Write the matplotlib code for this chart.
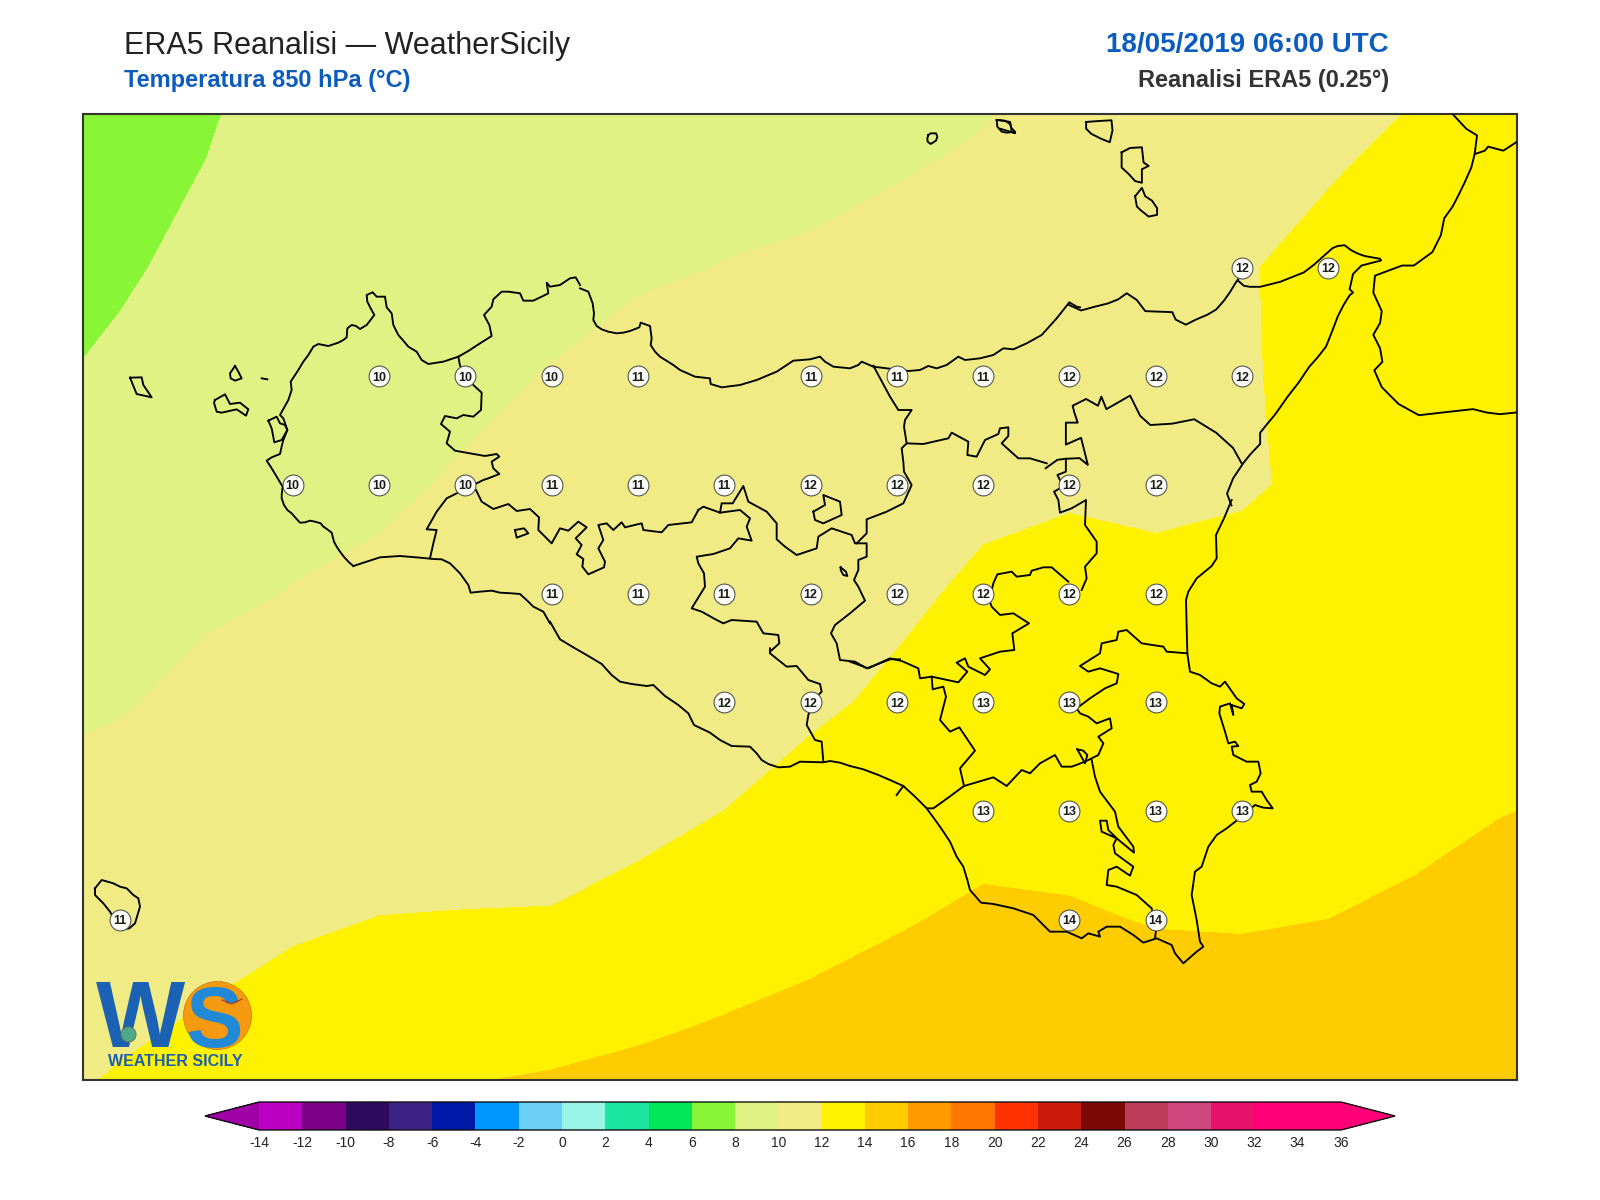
import matplotlib
matplotlib.use("Agg")
import matplotlib.pyplot as plt

plt.rcParams["font.family"] = ["Liberation Sans", "DejaVu Sans"]
plt.rcParams["axes.unicode_minus"] = False

# ERA5 grid, 0.25 deg
grid_lons = [11.75, 12.0, 12.25, 12.5, 12.75, 13.0, 13.25, 13.5, 13.75, 14.0,
             14.25, 14.5, 14.75, 15.0, 15.25, 15.5, 15.75, 16.0, 16.25]
grid_lats = [38.75, 38.5, 38.25, 38.0, 37.75, 37.5, 37.25, 37.0, 36.75, 36.5, 36.25]

# temperature per longitude column, north to south, estimated from the contours
t850_columns = [
    [5.85, 6.5, 7.13, 7.77, 8.4, 9.04, 9.68, 10.3, 10.9, 11.45, 12.0],
    [6.7, 7.25, 7.78, 8.32, 8.85, 9.38, 9.9, 10.54, 11.17, 11.8, 12.45],
    [7.55, 8.0, 8.45, 8.9, 9.35, 9.8, 10.33, 10.93, 11.53, 12.15, 12.85],
    [8.6, 8.9, 9.2, 9.45, 9.72, 10.03, 10.63, 11.23, 11.83, 12.5, 13.2],
    [8.9, 9.1, 9.35, 9.6, 9.8, 10.24, 10.83, 11.43, 12.02, 12.95, 13.9],
    [9.0, 9.25, 9.5, 9.75, 10.13, 10.61, 11.0, 11.5, 12.05, 13.34, 14.6],
    [9.2, 9.4, 9.65, 10.05, 10.5, 10.85, 11.2, 11.5, 12.07, 13.5, 14.8],
    [9.3, 9.5, 9.82, 10.5, 10.75, 10.96, 11.2, 11.45, 12.62, 13.8, 15.0],
    [9.4, 9.63, 10.03, 10.42, 10.8, 11.2, 11.6, 12.0, 13.06, 14.13, 15.2],
    [9.4, 9.7, 10.15, 10.9, 11.5, 11.6, 11.8, 12.45, 13.51, 14.4, 15.4],
    [9.5, 9.85, 10.5, 11.0, 11.5, 11.78, 12.2, 12.95, 13.9, 14.6, 15.5],
    [9.6, 10.15, 10.65, 11.1, 11.75, 12.2, 12.95, 13.58, 14.2, 14.9, 15.6],
    [10.1, 10.6, 11.0, 11.5, 11.85, 12.42, 12.99, 13.56, 14.12, 14.8, 15.5],
    [10.6, 11.0, 11.4, 11.6, 11.75, 12.31, 12.85, 13.4, 13.94, 14.6, 15.3],
    [11.0, 11.4, 11.9, 11.9, 11.88, 12.37, 12.88, 13.4, 13.92, 14.5, 15.1],
    [11.2, 11.85, 12.38, 12.3, 12.22, 12.7, 13.05, 13.35, 14.0, 14.5, 15.1],
    [11.73, 12.3, 12.6, 12.65, 12.7, 12.9, 13.2, 13.55, 14.3, 15.0, 15.7],
    [12.2, 12.6, 12.8, 12.9, 13.0, 13.2, 13.5, 13.95, 14.7, 15.4, 16.0],
    [12.6, 12.9, 13.0, 13.1, 13.2, 13.4, 13.7, 14.2, 15.1, 15.8, 16.5],
]

levels = list(range(-14, 38, 2))
band_colors = [
    "#a000a8", "#bb00c3", "#7c0088", "#2e0a5e", "#3c2285", "#0018a8", "#0096ff",
    "#6ccff6", "#99f5e8", "#1de6a0", "#00e85a", "#88f636", "#e0f283", "#f0eb84",
    "#fff200", "#ffcc00", "#ff9900", "#ff7700", "#ff3300", "#cc1a0a", "#7d0808",
    "#bc3d5a", "#d04780", "#e8126e", "#ff0078", "#ff0078", "#ff0078",
]

# values printed in the white circles
label_lons = [15.25, 15.5,
              12.75, 13.0, 13.25, 13.5, 14.0, 14.25, 14.5, 14.75, 15.0, 15.25,
              12.5, 12.75, 13.0, 13.25, 13.5, 13.75, 14.0, 14.25, 14.5, 14.75, 15.0,
              13.25, 13.5, 13.75, 14.0, 14.25, 14.5, 14.75, 15.0,
              13.75, 14.0, 14.25, 14.5, 14.75, 15.0,
              14.5, 14.75, 15.0, 15.25,
              12.0, 14.75, 15.0]
label_lats = [38.25] * 2 + [38.0] * 10 + [37.75] * 11 + [37.5] * 8 + [37.25] * 6 + [37.0] * 4 + [36.75] * 3
label_vals = [12, 12,
              10, 10, 10, 11, 11, 11, 11, 12, 12, 12,
              10, 10, 10, 11, 11, 11, 12, 12, 12, 12, 12,
              11, 11, 11, 12, 12, 12, 12, 12,
              12, 12, 12, 13, 13, 13,
              13, 13, 13, 13,
              11, 14, 14]

# outlines, one (x0, y0, scale) per traced area
AREA_A = (80, 250, 3)
AREA_B = (550, 330, 3)
AREA_C = (1000, 100, 2.96)
AREA_D = (850, 480, 3)
AREA_E = (550, 560, 3)
AREA_F = (400, 460, 3)
AREA_G = (580, 270, 3)
AREA_H = (900, 110, 3)
AREA_I = (80, 860, 3)

coast_west = [(820, 948), (808, 938), (793, 922), (780, 905), (770, 890), (762, 875), (755, 848), (742, 838), (730, 830),
              (722, 820), (705, 815), (690, 812), (675, 817), (660, 818), (648, 805), (635, 790), (622, 780), (612, 765),
              (605, 745), (605, 735), (608, 710), (590, 680), (572, 650), (560, 632),
              (575, 622), (600, 612), (606, 585), (610, 570), (622, 540), (610, 505), (600, 495), (625, 450),
              (635, 420), (632, 395), (655, 360), (670, 335), (685, 315), (700, 290), (715, 282), (745, 288), (775, 278),
              (790, 270), (800, 262), (802, 235), (815, 225), (828, 228), (840, 237), (860, 225), (883, 195), (872, 175),
              (862, 155), (860, 135),
              (878, 127), (890, 140), (915, 140), (920, 172), (935, 190), (940, 225), (955, 255), (970, 272), (985, 290),
              (1010, 305), (1025, 330), (1045, 342), (1090, 335), (1135, 320), (1165, 303), (1200, 280), (1235, 258),
              (1228, 225), (1212, 195), (1235, 170), (1240, 148), (1265, 125), (1285, 125), (1320, 130),
              (1330, 152), (1360, 152), (1385, 140), (1405, 130), (1400, 98), (1410, 110), (1440, 105), (1470, 85),
              (1487, 82), (1500, 105)]
stagnone = [(565, 512), (590, 500), (600, 520), (615, 525), (622, 540), (605, 570), (583, 577), (575, 535), (565, 512)]
coast_north_a = [(0, 55), (25, 65), (38, 100), (42, 130), (40, 150), (50, 168), (65, 178), (85, 185), (110, 190), (130, 188),
                 (150, 183), (178, 172), (182, 158), (210, 168), (215, 205), (212, 225), (225, 245), (240, 260), (280, 285),
                 (300, 300), (345, 320), (390, 325), (392, 342), (425, 352), (480, 345), (530, 330), (590, 305), (640, 272),
                 (690, 268), (720, 260), (735, 275), (760, 290), (810, 295), (835, 285), (845, 275), (880, 290), (920, 295),
                 (985, 303), (1020, 300), (1045, 288), (1070, 295), (1100, 285), (1135, 260), (1155, 270),
                 (1200, 265), (1240, 255), (1270, 235), (1300, 238), (1340, 220), (1385, 195), (1430, 145), (1468, 97),
                 (1490, 110), (1500, 112)]
coast_north_b = [(205, 607), (240, 623), (280, 612), (320, 602), (350, 590), (375, 572), (405, 592), (430, 625), (510, 628),
                 (520, 650), (550, 665), (580, 650), (615, 635), (640, 620), (662, 595), (680, 570), (695, 545), (705, 530),
                 (705, 535), (722, 550), (740, 553), (770, 553), (830, 538), (870, 522), (900, 510), (930, 487), (960, 460),
                 (985, 438), (1000, 432), (1020, 430), (1040, 445), (1060, 455), (1080, 462),
                 (1125, 470), (1128, 475), (1070, 490), (1045, 515), (1035, 560), (1045, 570), (1035, 578),
                 (1018, 605), (1000, 640), (983, 685), (965, 730), (940, 762), (915, 790), (885, 835), (850, 880), (815, 930),
                 (790, 960), (770, 985), (770, 1018), (740, 1050), (720, 1075),
                 (690, 1120), (672, 1165), (685, 1200)]
coast_east = [(1145, 60), (1122, 115), (1098, 165), (1100, 235), (1085, 258), (1040, 295),
              (1015, 335), (1008, 360), (1012, 520), (1020, 575), (1050, 585), (1085, 610), (1110, 620), (1125, 605),
              (1160, 655), (1183, 672), (1175, 685), (1145, 675), (1150, 705), (1140, 670), (1110, 680), (1108, 700),
              (1125, 755), (1135, 790), (1155, 785), (1165, 798), (1145, 800), (1150, 825), (1190, 845), (1225, 845),
              (1232, 880), (1220, 905), (1200, 915), (1205, 935), (1235, 935), (1250, 960), (1268, 985), (1240, 983),
              (1215, 975), (1175, 1010), (1130, 1045), (1100, 1065), (1075, 1100), (1055, 1160), (1035, 1175),
              (1025, 1245), (1040, 1320), (1050, 1385), (1060, 1400), (1040, 1415), (1000, 1450), (975, 1420),
              (965, 1395), (920, 1375), (880, 1388), (850, 1365), (810, 1340), (770, 1340), (745, 1355), (750, 1370),
              (715, 1360), (695, 1375), (650, 1355), (600, 1355), (575, 1330), (550, 1305), (490, 1285), (430, 1272), (393, 1268),
              (360, 1230), (352, 1200), (340, 1160), (320, 1130), (300, 1085), (270, 1040), (230, 985), (195, 950), (160, 918),
              (120, 900), (85, 885), (40, 868), (0, 858)]
coast_south_a = [(900, 618), (870, 608), (840, 603), (820, 607), (750, 605), (720, 620), (685, 622), (655, 612), (635, 600),
                 (620, 580), (600, 560), (545, 558), (510, 540), (480, 518), (432, 495), (415, 460), (385, 435), (345, 408),
                 (310, 375), (290, 378), (245, 372), (210, 365), (185, 345), (155, 312), (115, 288), (70, 262), (30, 238),
                 (0, 185)]
coast_south_b = [(450, 490), (430, 455), (400, 440), (385, 425), (360, 402), (335, 400), (300, 398), (275, 392),
                 (240, 395), (212, 398), (205, 375), (180, 340), (150, 310), (125, 298), (100, 297), (60, 293), (0, 288)]
coast_south_c = [(960, 918), (900, 922), (860, 935), (820, 948)]

calabria = [(1340, 42), (1380, 85), (1412, 105), (1405, 160), (1395, 200), (1375, 245), (1358, 280), (1340, 315), (1315, 350),
            (1305, 400), (1280, 450), (1225, 490), (1190, 490), (1150, 505), (1110, 520), (1105, 570), (1130, 625), (1125, 660),
            (1105, 695), (1125, 735), (1132, 775), (1108, 800), (1130, 850), (1180, 900), (1240, 933), (1310, 925),
            (1400, 915), (1440, 925), (1480, 930), (1528, 925)]
calabria_inner = [(1405, 160), (1435, 150), (1445, 138), (1490, 150), (1528, 125)]

border_trapani = [(1135, 320), (1140, 347), (1180, 405), (1205, 428), (1203, 480), (1180, 500), (1150, 495),
                  (1130, 505), (1095, 498), (1083, 522), (1110, 545), (1100, 580), (1125, 602), (1215, 618),
                  (1250, 612), (1258, 620), (1235, 635), (1240, 655), (1258, 672), (1225, 685), (1210, 690),
                  (1190, 700), (1130, 730), (1100, 745), (1070, 785), (1040, 838), (1070, 840), (1060, 880), (1050, 925)]
border_palermo = [(228, 90), (245, 125), (280, 147), (325, 132), (350, 153), (390, 147), (417, 172), (415, 210),
                  (455, 250), (480, 205), (505, 212), (535, 185), (560, 202), (527, 235), (545, 255), (530, 283),
                  (550, 297), (547, 320), (565, 343), (612, 322), (615, 305), (595, 265), (610, 240), (595, 195),
                  (620, 190), (640, 210), (665, 187), (675, 202), (725, 190), (730, 210), (785, 217), (805, 195),
                  (875, 187), (895, 150)]
border_palermo_b = [(445, 540), (460, 530), (510, 548), (570, 540), (600, 565), (590, 590), (605, 632), (565, 625),
                    (540, 655), (490, 672), (440, 680), (445, 700), (462, 730), (465, 770), (425, 835), (455, 845),
                    (500, 870), (520, 880), (545, 870), (620, 875), (640, 910), (685, 915), (688, 940), (660, 965)]
border_agrigento = [(660, 265), (660, 280), (710, 320), (740, 318), (775, 360), (810, 372), (815, 395), (790, 420),
                    (775, 465), (770, 495), (795, 540), (815, 545), (820, 605)]
border_enna = [(510, 548), (515, 520), (548, 520), (580, 468), (595, 515), (650, 545), (680, 580), (680, 628),
               (705, 650), (740, 675), (800, 655), (805, 620), (845, 595), (905, 615), (915, 640), (950, 640),
               (950, 680), (925, 690), (925, 720), (912, 750), (925, 770), (945, 812), (900, 850), (855, 885),
               (843, 910), (860, 940), (870, 990), (915, 995), (950, 1015), (1020, 988), (1050, 988)]
border_messina = [(970, 107), (1020, 200), (1045, 240), (1085, 240), (1065, 270), (1062, 290), (1070, 340),
                  (1120, 342), (1195, 325), (1205, 308), (1255, 335), (1252, 375), (1280, 380), (1305, 330),
                  (1345, 312), (1350, 295), (1375, 292), (1375, 318), (1355, 340), (1405, 385), (1440, 385), (1490, 400)]
border_catania_w = [(1070, 340), (1055, 355), (1060, 395), (1062, 425), (1085, 465), (1060, 520), (1010, 545),
                    (950, 568), (950, 610), (920, 640)]
border_messina_e = [(135, 1090), (170, 1065), (195, 1062), (235, 1060), (260, 1080), (240, 1000), (195, 1020),
                    (195, 955), (230, 955), (220, 925), (215, 905), (255, 885), (290, 905), (300, 878), (315, 915),
                    (385, 875), (415, 935), (445, 962), (510, 958), (575, 945), (640, 985), (690, 1030), (715, 1075)]
border_fork = [(195, 1062), (195, 1100), (170, 1110), (180, 1130), (178, 1148)]
border_catania_e = [(630, 25), (612, 35), (625, 60), (630, 98), (665, 85), (708, 60), (705, 135), (740, 185),
                    (740, 220), (705, 260), (710, 295), (695, 330)]
border_catania_s = [(655, 305), (605, 262), (580, 262), (545, 272), (540, 285), (500, 290), (485, 275), (442, 283),
                    (430, 310), (418, 360), (425, 380), (450, 405), (490, 400), (537, 430), (487, 460), (493, 510),
                    (450, 515), (390, 535), (420, 568), (405, 585), (355, 560), (345, 535), (320, 548), (352, 575),
                    (325, 607), (245, 590), (210, 595), (205, 565), (155, 543), (120, 535), (55, 565), (0, 545)]
border_caltanissetta = [(245, 590), (248, 628), (280, 620), (288, 650), (270, 720), (300, 755), (328, 742), (375, 812),
                        (330, 865), (342, 918), (285, 960), (250, 985), (232, 985)]
border_ragusa = [(342, 918), (430, 892), (470, 918), (515, 870), (540, 880), (570, 850), (615, 825), (635, 860),
                 (665, 860), (705, 845), (745, 825), (760, 790), (745, 770), (785, 745), (780, 715), (740, 730),
                 (715, 710), (690, 700), (680, 685), (720, 655), (765, 625), (800, 610), (805, 582), (750, 565),
                 (715, 575), (690, 558), (750, 520), (755, 490), (800, 480), (805, 455), (830, 450), (875, 490),
                 (940, 500), (950, 515), (1012, 520)]
border_siracusa = [(725, 840), (735, 890), (750, 935), (795, 995), (805, 1040), (850, 1100), (852, 1118), (800, 1075),
                   (775, 1050), (770, 1022), (750, 1022), (755, 1055), (800, 1075), (790, 1095), (795, 1120), (850, 1160),
                   (840, 1187), (800, 1160), (775, 1170), (770, 1215), (800, 1220), (860, 1245), (905, 1285), (918, 1350),
                   (915, 1375)]
lake_triangle = [(682, 808), (700, 812), (712, 825), (705, 850), (682, 808)]
gela_notch = [(140, 945), (160, 918)]

marettimo = [(150, 383), (185, 382), (190, 405), (215, 442), (170, 432), (150, 383)]
levanzo = [(465, 348), (475, 365), (485, 385), (465, 392), (452, 385), (450, 370), (465, 348)]
favignana = [(405, 450), (435, 433), (450, 462), (480, 458), (505, 478), (498, 497), (470, 478), (425, 488), (410, 485),
             (402, 458), (405, 450)]
egadi_rocks = [(545, 385), (562, 388)]
ustica = [(85, 75), (92, 70), (108, 70), (112, 80), (108, 92), (92, 102), (83, 95), (82, 85), (85, 75)]
alicudi = [(290, 30), (315, 32), (330, 42), (335, 55), (345, 65), (320, 68), (305, 65), (292, 50), (290, 30)]
panarea = [(0, 60), (30, 65), (35, 95), (45, 98), (0, 85)]
salina = [(255, 65), (295, 62), (330, 60), (333, 90), (325, 125), (300, 115), (270, 100), (255, 85), (255, 65)]
lipari = [(360, 155), (385, 142), (420, 140), (425, 185), (440, 195), (420, 205), (420, 245), (400, 240), (380, 218),
          (360, 200), (360, 155)]
vulcano = [(400, 285), (420, 260), (430, 285), (450, 298), (465, 320), (465, 340), (440, 345), (415, 325), (405, 315), (400, 285)]
pantelleria = [(45, 85), (65, 60), (100, 70), (120, 80), (140, 85), (160, 105), (175, 115), (180, 140), (165, 190), (148, 205),
               (120, 210), (90, 155), (70, 130), (45, 105), (45, 85)]
lake_west = [(345, 210), (372, 205), (385, 220), (350, 233), (345, 210)]
lake_pozzillo = [(790, 545), (825, 525), (820, 495), (870, 515), (875, 555), (820, 580), (795, 570), (790, 545)]
lake_small = [(872, 712), (888, 725), (892, 738), (880, 735), (872, 720), (872, 712)]

outlines = [
    (AREA_A, coast_west), (AREA_A, stagnone), (AREA_G, coast_north_a), (AREA_C, coast_north_b),
    (AREA_D, coast_east), (AREA_E, coast_south_a), (AREA_F, coast_south_b), (AREA_A, coast_south_c),
    (AREA_C, calabria), (AREA_C, calabria_inner), (AREA_A, border_trapani), (AREA_F, border_palermo),
    (AREA_B, border_palermo_b), (AREA_E, border_agrigento), (AREA_B, border_enna), (AREA_B, border_messina),
    (AREA_B, border_catania_w), (AREA_C, border_messina_e), (AREA_C, border_fork), (AREA_D, border_catania_e),
    (AREA_D, border_catania_s), (AREA_D, border_caltanissetta), (AREA_D, border_ragusa), (AREA_D, border_siracusa),
    (AREA_D, lake_triangle), (AREA_D, gela_notch), (AREA_A, marettimo), (AREA_A, levanzo), (AREA_A, favignana),
    (AREA_A, egadi_rocks), (AREA_H, ustica), (AREA_H, alicudi), (AREA_C, panarea), (AREA_C, salina), (AREA_C, lipari),
    (AREA_C, vulcano), (AREA_I, pantelleria), (AREA_F, lake_west), (AREA_B, lake_pozzillo), (AREA_B, lake_small),
]


def to_lon(px):
    return 12.5 + (px - 292.7) / 345.2


def to_lat(py):
    return 38.25 - (py - 267.6) / 434.6


def trace_to_lonlat(area, points):
    x0, y0, scale = area
    lons = [to_lon(x0 + x / scale) for x, _ in points]
    lats = [to_lat(y0 + y / scale) for _, y in points]
    return lons, lats


fig = plt.figure(figsize=(16, 12), dpi=100)
ax = fig.add_axes([83 / 1600, 1 - 1080 / 1200, 1434 / 1600, 966 / 1200])

t850 = [[col[i] for col in t850_columns] for i in range(len(grid_lats))]
filled = ax.contourf(grid_lons, grid_lats, t850, levels=levels, colors=band_colors, extend="both")

for area, points in outlines:
    lons, lats = trace_to_lonlat(area, points)
    ax.plot(lons, lats, color="black", lw=1.35, solid_joinstyle="round", zorder=3)

ax.plot(label_lons, label_lats, ls="none", marker="o", ms=15, mfc="#fffffa", mec="#555555", mew=0.8, zorder=4)
for lon, lat, val in zip(label_lons, label_lats, label_vals):
    ax.text(lon, lat, str(val), ha="center", va="center_baseline", fontsize=9, fontweight="bold",
            color="#1a1a1a", zorder=5)

ax.set_xlim(to_lon(83), to_lon(1517))
ax.set_ylim(to_lat(1080), to_lat(114))
ax.set_xticks([])
ax.set_yticks([])
for spine in ax.spines.values():
    spine.set_linewidth(1.5)
    spine.set_color("#333333")

# logo in the lower left corner
ax.plot([to_lon(217)], [to_lat(1015)], marker="o", ms=49, mfc="#f59a10", mec="#c97a10", mew=0.5, zorder=6)
ax.text(to_lon(96), to_lat(1047), "W", fontsize=68, fontweight="bold", color="#1b62b5", zorder=7)
ax.text(to_lon(186), to_lat(1047), "S", fontsize=62, fontweight="bold", color="#2189d6", zorder=7)
ax.plot([to_lon(128)], [to_lat(1034)], marker="o", ms=11, mfc="#4fa88a", mec="#5f6a3a", mew=0.5, zorder=8)
ax.plot([to_lon(222), to_lon(232), to_lon(242)], [to_lat(1000), to_lat(1004), to_lat(999)],
        color="#b03a10", lw=0.9, zorder=8)
ax.text(to_lon(108), to_lat(1066), "WEATHER SICILY", fontsize=11.5, fontweight="bold", color="#1b5fb0", zorder=7)

# colour bar, the axes runs from tip to tip of the arrows
cax = fig.add_axes([205 / 1600, 1 - 1130 / 1200, 1190 / 1600, 28 / 1200])
cbar = fig.colorbar(filled, cax=cax, orientation="horizontal", ticks=levels, drawedges=False)
cbar.ax.tick_params(length=0, pad=4, labelsize=10, labelcolor="#222222")
cbar.outline.set_linewidth(1.0)
cbar.outline.set_edgecolor("#111111")

# titles
fig.text(124 / 1600, 1 - 46 / 1200, "ERA5 Reanalisi \u2014 WeatherSicily", fontsize=22, color="#222222",
         ha="left", va="center")
fig.text(124 / 1600, 1 - 81 / 1200, "Temperatura 850 hPa (\u00b0C)", fontsize=17, fontweight="bold", color="#0b5cbe",
         ha="left", va="center")
fig.text(1389 / 1600, 1 - 45 / 1200, "18/05/2019 06:00 UTC", fontsize=20, fontweight="bold", color="#0b5cbe",
         ha="right", va="center")
fig.text(1389 / 1600, 1 - 81 / 1200, "Reanalisi ERA5 (0.25\u00b0)", fontsize=17, fontweight="bold", color="#333333",
         ha="right", va="center")

fig.savefig("out.png", dpi=100)
plt.close(fig)
